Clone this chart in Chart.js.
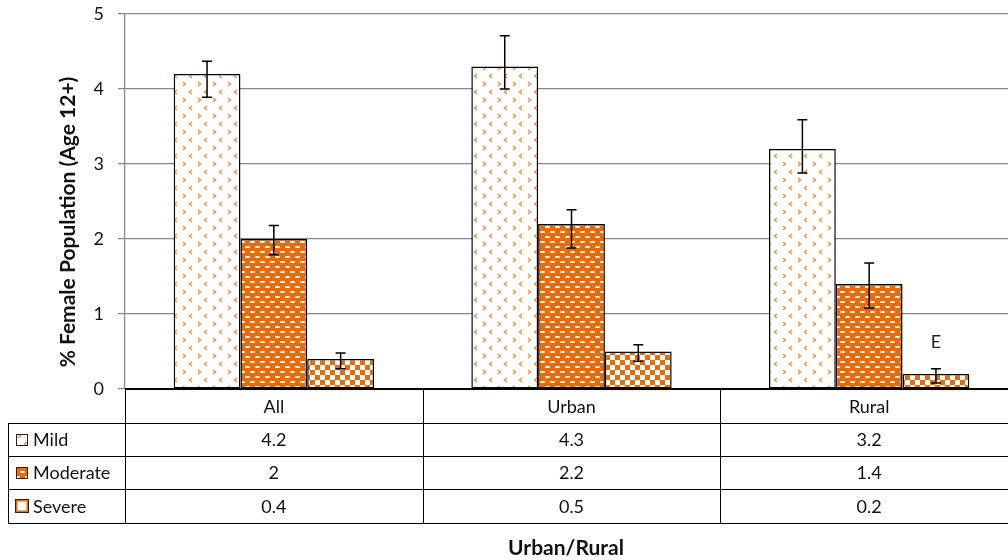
<!DOCTYPE html>
<html>
<head>
<meta charset="utf-8">
<script src="https://cdn.jsdelivr.net/npm/chart.js@4"></script>
<style>
  html, body { margin: 0; padding: 0; background: #fff; overflow: hidden; }
  #wrap { width: 1018px; height: 560px; }
</style>
</head>
<body>
<div id="wrap"><canvas id="chart" width="1018" height="560"></canvas></div>
<script>
// data
const categories = ['All', 'Urban', 'Rural'];
const seriesNames = ['Mild', 'Moderate', 'Severe'];
const mild = [4.2, 4.3, 3.2];
const moderate = [2, 2.2, 1.4];
const severe = [0.4, 0.5, 0.2];
const mildLow = [3.89, 4.0, 2.88];
const mildHigh = [4.37, 4.71, 3.59];
const moderateLow = [1.79, 1.88, 1.08];
const moderateHigh = [2.18, 2.39, 1.68];
const severeLow = [0.27, 0.37, 0.08];
const severeHigh = [0.48, 0.59, 0.27];
const flags = [['', '', ''], ['', '', ''], ['', '', 'E']];
const yTicks = [0, 1, 2, 3, 4, 5];

const FONT = 'Lato, "Open Sans", sans-serif';
const ORANGE = '#E46C0A';

// patterns
function makeTile(w, h, draw) {
    const c = document.createElement('canvas');
    c.width = w; c.height = h;
    draw(c.getContext('2d'));
    return document.getElementById('chart').getContext('2d').createPattern(c, 'repeat');
}
const mildPattern = makeTile(15, 16, g => {
    g.fillStyle = '#fff'; g.fillRect(0, 0, 15, 16);
    g.strokeStyle = '#F08A36';
    g.lineWidth = 1.3;
    // ">"
    g.beginPath(); g.moveTo(3, 2); g.lineTo(5.5, 4); g.lineTo(3, 6); g.stroke();
    // "<"
    g.beginPath(); g.moveTo(12, 10); g.lineTo(9.5, 12); g.lineTo(12, 14); g.stroke();
});
const moderatePattern = makeTile(10, 10, g => {
    g.fillStyle = ORANGE; g.fillRect(0, 0, 10, 10);
    g.fillStyle = '#F8C9A2';
    g.fillRect(0, 1, 5, 2);
    g.fillRect(5, 6, 5, 2);
    g.fillStyle = '#FFF4EA';
    g.fillRect(1, 1, 3, 2);
    g.fillRect(6, 6, 3, 2);
});
const severePattern = makeTile(10, 10, g => {
    g.fillStyle = '#fff'; g.fillRect(0, 0, 10, 10);
    g.fillStyle = ORANGE;
    g.fillRect(0, 0, 5, 5);
    g.fillRect(5, 5, 5, 5);
});

const values = [mild, moderate, severe];
const lows = [mildLow, moderateLow, severeLow];
const highs = [mildHigh, moderateHigh, severeHigh];
const fills = [mildPattern, moderatePattern, severePattern];

const errorBars = {
    id: 'errorBars',
    afterDatasetsDraw(chart) {
        const { ctx, scales: { y } } = chart;
        ctx.save();
        ctx.strokeStyle = '#000';
        ctx.lineWidth = 1.5;
        ctx.fillStyle = '#222';
        ctx.font = '18px ' + FONT;
        ctx.textAlign = 'center';
        ctx.textBaseline = 'middle';
        chart.data.datasets.forEach((ds, d) => {
            chart.getDatasetMeta(d).data.forEach((bar, i) => {
                const top = y.getPixelForValue(highs[d][i]);
                const bot = y.getPixelForValue(lows[d][i]);
                ctx.beginPath();
                ctx.moveTo(bar.x, top); ctx.lineTo(bar.x, bot);
                ctx.moveTo(bar.x - 5, top); ctx.lineTo(bar.x + 5, top);
                ctx.moveTo(bar.x - 5, bot); ctx.lineTo(bar.x + 5, bot);
                ctx.stroke();
                if (flags[d][i]) ctx.fillText(flags[d][i], bar.x, top - 27);
            });
        });
        ctx.restore();
    }
};

const dataTable = {
    id: 'dataTable',
    afterDraw(chart) {
        const { ctx, chartArea: a, scales: { x } } = chart;
        const catW = (a.right - a.left) / categories.length;
        const rows = [a.bottom, a.bottom + 34, a.bottom + 67, a.bottom + 100, a.bottom + 134];
        const left = 8;
        ctx.save();
        ctx.strokeStyle = '#000';
        ctx.lineWidth = 1;
        ctx.beginPath();
        for (let r = 1; r < rows.length; r++) {
            ctx.moveTo(left, rows[r] + 0.5); ctx.lineTo(a.right, rows[r] + 0.5);
        }
        ctx.moveTo(left + 0.5, rows[1]); ctx.lineTo(left + 0.5, rows[4]);
        for (let i = 0; i <= categories.length; i++) {
            const px = Math.round(a.left + i * catW) + 0.5;
            ctx.moveTo(px, rows[0]); ctx.lineTo(px, rows[4]);
        }
        ctx.stroke();
        // zero line
        ctx.lineWidth = 2;
        ctx.beginPath();
        ctx.moveTo(a.left, a.bottom); ctx.lineTo(a.right, a.bottom);
        ctx.stroke();

        ctx.fillStyle = '#111';
        ctx.font = '18px ' + FONT;
        ctx.textAlign = 'center';
        ctx.textBaseline = 'middle';
        categories.forEach((c, i) => {
            const cx = x.getPixelForValue(i);
            ctx.fillText(c, cx, (rows[0] + rows[1]) / 2 + 1);
            values.forEach((vals, d) => {
                ctx.fillText(String(vals[i]), cx, (rows[d + 1] + rows[d + 2]) / 2 + 1);
            });
        });
        // legend keys
        const keyBorders = ['#222', '#222', ORANGE];
        ctx.textAlign = 'left';
        seriesNames.forEach((name, d) => {
            const cy = (rows[d + 1] + rows[d + 2]) / 2;
            const ky = Math.round(cy - 6);
            ctx.fillStyle = d === 2 ? '#fff' : fills[d];
            ctx.fillRect(16, ky, 12, 12);
            ctx.lineWidth = d === 2 ? 2 : 1;
            ctx.strokeStyle = keyBorders[d];
            ctx.strokeRect(16.5, ky + 0.5, 11, 11);
            if (d === 2) { ctx.strokeStyle = '#222'; ctx.lineWidth = 1; ctx.strokeRect(15.5, ky - 0.5, 13, 13); }
            ctx.fillStyle = '#111';
            ctx.fillText(name, 33, cy + 1);
        });
        // axis titles
        ctx.font = 'bold 21px ' + FONT;
        ctx.textAlign = 'center';
        ctx.fillText('Urban/Rural', 566, 548);
        ctx.translate(68, 222);
        ctx.rotate(-Math.PI / 2);
        ctx.fillText('% Female Population (Age 12+)', 0, 0);
        ctx.restore();
    }
};

new Chart(document.getElementById('chart'), {
    type: 'bar',
    data: {
        labels: categories,
        datasets: seriesNames.map((name, d) => ({
            label: name,
            data: values[d],
            backgroundColor: fills[d],
            borderColor: '#000',
            borderWidth: 1.5,
            borderSkipped: false,
            categoryPercentage: 0.673,
            barPercentage: 1
        }))
    },
    options: {
        responsive: false,
        animation: false,
        devicePixelRatio: 1,
        layout: { padding: { left: 0, right: 0, top: 14, bottom: 171 } },
        plugins: { legend: { display: false }, tooltip: { enabled: false } },
        scales: {
            x: { display: false },
            y: {
                min: 0,
                max: 5,
                afterBuildTicks: s => { s.ticks = yTicks.map(v => ({ value: v })); },
                afterFit: s => { s.width = 125; s.paddingTop = 0; s.paddingBottom = 0; },
                grid: { color: '#868686', lineWidth: 1.25, tickLength: 7 },
                border: { color: '#868686', width: 1.25 },
                ticks: { padding: 14, color: '#111', font: { family: FONT, size: 18 } }
            }
        }
    },
    plugins: [errorBars, dataTable]
});
</script>
</body>
</html>
